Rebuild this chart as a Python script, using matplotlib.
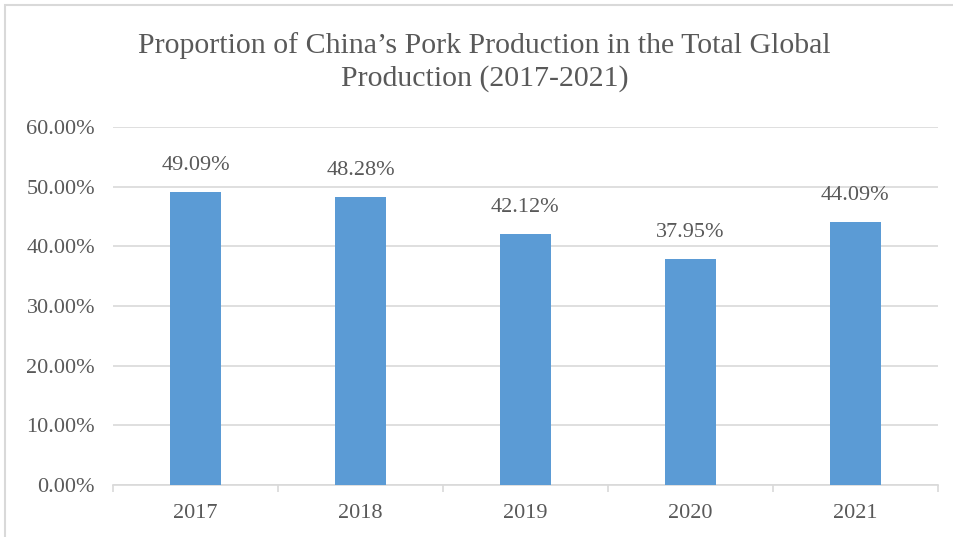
import matplotlib.pyplot as plt
from matplotlib.patches import Rectangle
from matplotlib.ticker import FuncFormatter
import numpy as np

years = ["2017", "2018", "2019", "2020", "2021"]
shares = [49.09, 48.28, 42.12, 37.95, 44.09]
y_ticks = [0, 10, 20, 30, 40, 50, 60]

plt.rcParams['font.family'] = ['Liberation Serif', 'DejaVu Serif']
text_color = '#595959'
grid_color = '#d9d9d9'
bar_color = '#5b9bd5'

fig = plt.figure(figsize=(9.54, 5.37), dpi=100)
ax = fig.add_axes([0.1185, 0.0968, 0.8645, 0.6667])

# outer chart border
fig.patches.append(Rectangle((5 / 954, -0.05), 1.0, 1.05 - 5 / 537,
                             transform=fig.transFigure, fill=False,
                             edgecolor=grid_color, linewidth=1.5))

x = np.arange(len(years))
bars = ax.bar(x, shares, width=0.31, color=bar_color, zorder=3)
for xi, val in zip(x, shares):
    ax.text(xi, val + 2.8, f"{val:.2f}%", ha='center', va='bottom',
            fontsize=16, color=text_color)

ax.set_xlim(-0.5, len(years) - 0.5)
ax.set_ylim(0, 60)
ax.set_yticks(y_ticks)
ax.yaxis.set_major_formatter(FuncFormatter(lambda v, p: f"{v:.2f}%"))
ax.set_xticks(x)
ax.set_xticklabels(years)
ax.set_xticks(np.arange(len(years) + 1) - 0.5, minor=True)

ax.grid(axis='y', color=grid_color, linewidth=1.2, zorder=0)
for s in ['top', 'right', 'left']:
    ax.spines[s].set_visible(False)
ax.spines['bottom'].set_color(grid_color)
ax.spines['bottom'].set_linewidth(1.2)

ax.tick_params(axis='y', length=0, labelsize=16, labelcolor=text_color, pad=13)
ax.tick_params(axis='x', which='major', length=0, labelsize=16,
               labelcolor=text_color, pad=14)
ax.tick_params(axis='x', which='minor', length=5, color=grid_color, width=1.2)

fig.text(0.508, 0.884, "Proportion of China\u2019s Pork Production in the Total Global\nProduction (2017-2021)",
         ha='center', va='center', fontsize=21.5, color=text_color, linespacing=1.3)

fig.savefig('out.png', dpi=100)
